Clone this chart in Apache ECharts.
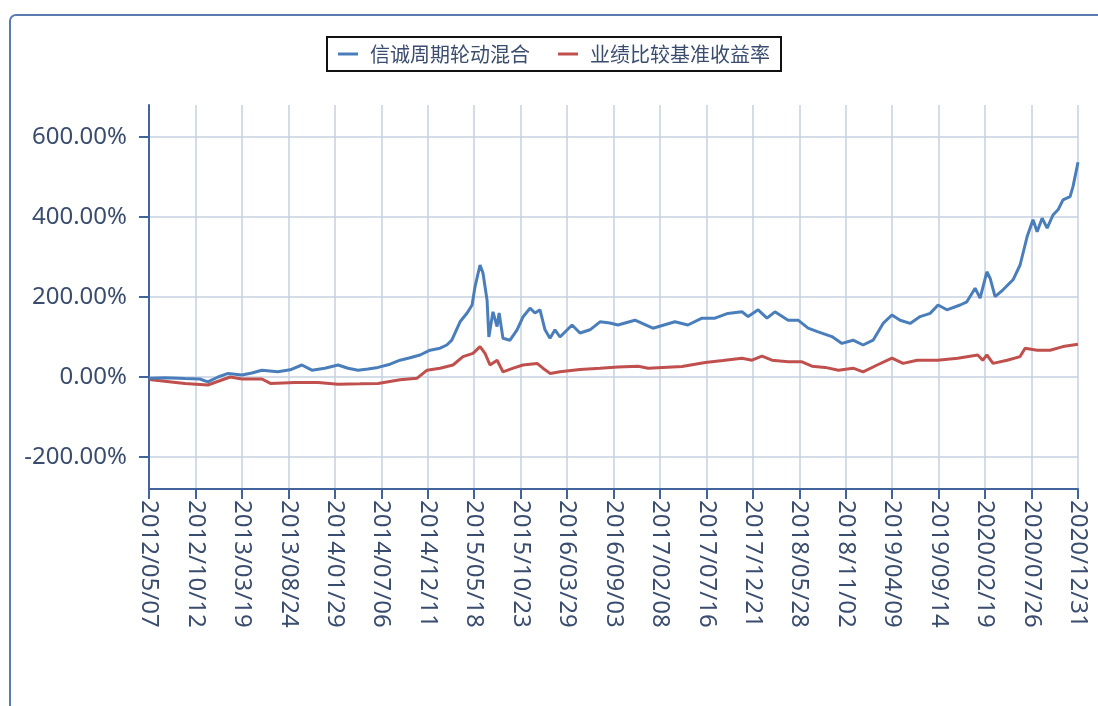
<!DOCTYPE html>
<html>
<head>
<meta charset="utf-8">
<script src="https://cdn.jsdelivr.net/npm/echarts@6/dist/echarts.min.js"></script>
<style>
  html, body { margin: 0; padding: 0; background: #fff; overflow: hidden; }
  #frame { position: absolute; left: 9px; top: 14px; width: 1300px; height: 900px;
           border: 2px solid #5a7cb0; border-radius: 7px; box-sizing: border-box; }
  #chart { position: absolute; left: 0; top: 0; width: 1098px; height: 706px; }
</style>
</head>
<body>
<div id="frame"></div>
<div id="chart"></div>
<script>
const seriesNames = ['信诚周期轮动混合', '业绩比较基准收益率'];
const tickLabels = ['2012/05/07','2012/10/12','2013/03/19','2013/08/24','2014/01/29','2014/07/06',
  '2014/12/11','2015/05/18','2015/10/23','2016/03/29','2016/09/03','2017/02/08','2017/07/16',
  '2017/12/21','2018/05/28','2018/11/02','2019/04/09','2019/09/14','2020/02/19','2020/07/26','2020/12/31'];
const yTicks = [-200, 0, 200, 400, 600];

const fundDates = ['2012/05/07','2012/06/30','2012/09/06','2012/10/27','2012/11/23','2012/12/28','2013/01/31',
  '2013/03/19','2013/04/22','2013/05/26','2013/07/19','2013/08/30','2013/10/09','2013/11/12','2013/12/26',
  '2014/02/09','2014/03/15','2014/04/18','2014/05/22','2014/06/25','2014/08/05','2014/09/08','2014/10/12',
  '2014/11/15','2014/12/19','2015/01/22','2015/02/14','2015/03/03','2015/03/31','2015/04/24','2015/05/11',
  '2015/05/21','2015/06/07','2015/06/17','2015/07/01','2015/07/07','2015/07/21','2015/08/04','2015/08/11',
  '2015/08/24','2015/09/17','2015/10/11','2015/10/31','2015/11/24','2015/12/11','2015/12/28','2016/01/14',
  '2016/01/31','2016/02/17','2016/03/05','2016/04/15','2016/05/12','2016/06/15','2016/07/19','2016/08/22',
  '2016/09/18','2016/11/15','2017/01/15','2017/03/31','2017/05/14','2017/07/01','2017/08/14','2017/09/27',
  '2017/11/14','2017/12/05','2018/01/08','2018/02/07','2018/03/06','2018/04/20','2018/05/24','2018/06/27',
  '2018/07/31','2018/09/16','2018/10/20','2018/11/27','2018/12/31','2019/02/03','2019/03/09','2019/04/08',
  '2019/05/06','2019/06/09','2019/07/13','2019/08/16','2019/09/12','2019/10/12','2019/11/26','2019/12/19',
  '2020/01/16','2020/02/02','2020/02/25','2020/03/07','2020/03/24','2020/04/20','2020/05/24','2020/06/17',
  '2020/07/11','2020/07/31','2020/08/14','2020/08/31','2020/09/17','2020/10/07','2020/10/24','2020/11/10',
  '2020/12/04','2020/12/14','2020/12/28','2020/12/31'];
const fundValues = [-3,-2,-4,-5,-12,0,9,
  5,10,17,13,18,30,17,22,
  30,22,17,20,24,32,42,48,
  55,67,72,80,92,138,160,180,
  226,280,260,192,100,163,126,160,
  97,92,118,150,172,160,168,118,
  97,118,100,130,110,118,138,135,
  130,142,122,138,130,147,147,159,
  163,151,168,147,163,142,142,122,
  113,101,84,92,80,92,134,155,
  142,134,151,159,180,168,180,188,
  222,197,263,247,201,218,243,280,
  351,393,363,397,372,405,418,443,
  451,476,526,537];

const benchDates = ['2012/05/07','2012/09/06','2012/11/23','2013/02/07','2013/03/19','2013/05/26','2013/06/24',
  '2013/09/16','2013/12/03','2014/02/09','2014/04/25','2014/06/25','2014/09/08','2014/11/05','2014/12/09',
  '2015/01/22','2015/03/07','2015/04/10','2015/05/14','2015/06/07','2015/06/24','2015/07/11','2015/08/04',
  '2015/08/24','2015/09/28','2015/10/31','2015/12/18','2016/01/07','2016/01/31','2016/03/05','2016/05/12',
  '2016/07/19','2016/09/18','2016/11/26','2016/12/30','2017/04/24','2017/07/12','2017/09/10','2017/11/14',
  '2017/12/18','2018/01/21','2018/02/24','2018/04/20','2018/06/06','2018/07/10','2018/08/24','2018/10/08',
  '2018/11/27','2018/12/31','2019/02/17','2019/04/08','2019/05/16','2019/07/03','2019/09/10','2019/11/18',
  '2020/01/25','2020/02/11','2020/02/25','2020/03/17','2020/05/04','2020/06/17','2020/07/04','2020/08/14',
  '2020/09/27','2020/11/10','2020/12/31'];
const benchValues = [-6,-16,-20,0,-5,-5,-16,
  -14,-14,-18,-17,-16,-7,-3,17,
  22,30,51,59,76,59,30,42,
  13,22,30,34,22,9,13,19,
  22,25,27,22,26,36,41,47,
  42,52,42,38,38,27,24,17,
  22,13,30,47,34,42,42,47,
  55,42,55,34,42,51,72,67,
  67,76,82];

// daily calendar categories spanning the tick labels
function fmt(d) {
  const m = String(d.getUTCMonth() + 1).padStart(2, '0');
  const dd = String(d.getUTCDate()).padStart(2, '0');
  return d.getUTCFullYear() + '/' + m + '/' + dd;
}
const categories = [];
{
  const [sy, sm, sd] = tickLabels[0].split('/').map(Number);
  const [ey, em, ed] = tickLabels[tickLabels.length - 1].split('/').map(Number);
  let t = Date.UTC(sy, sm - 1, sd);
  const end = Date.UTC(ey, em - 1, ed);
  while (t <= end) { categories.push(fmt(new Date(t))); t += 86400000; }
}
const tickSet = new Set(tickLabels);
const showTick = (idx, val) => tickSet.has(val);

const textColor = '#3b4d6e';
const axisColor = '#42649c';
const gridColor = '#c6d0e1';

const chart = echarts.init(document.getElementById('chart'), null, { renderer: 'canvas' });
chart.setOption({
  animation: false,
  backgroundColor: 'transparent',
  legend: {
    left: 327, top: 37,
    padding: [7, 11],
    itemGap: 28,
    itemWidth: 20, itemHeight: 3,
    borderColor: '#111', borderWidth: 2,
    icon: 'rect',
    textStyle: { fontFamily: 'Noto Sans CJK SC', fontSize: 20, color: textColor, padding: [0, 0, 0, 7] },
    data: seriesNames
  },
  grid: { left: 149, right: 20, top: 105, bottom: 217, containLabel: false },
  xAxis: {
    type: 'category',
    data: categories,
    boundaryGap: false,
    axisLine: { onZero: false, lineStyle: { color: axisColor, width: 2 } },
    axisTick: { interval: showTick, length: 10, lineStyle: { color: axisColor, width: 2 } },
    axisLabel: { interval: showTick, rotate: -90, margin: 11, fontSize: 24,
      fontFamily: 'Noto Sans', color: textColor },
    splitLine: { show: true, interval: showTick, lineStyle: { color: gridColor, width: 1.5 } }
  },
  yAxis: {
    type: 'value',
    min: -280, max: 680,
    axisLine: { show: true, lineStyle: { color: axisColor, width: 2 } },
    axisTick: { show: true, customValues: yTicks, length: 10, lineStyle: { color: axisColor, width: 2 } },
    axisLabel: { customValues: yTicks, margin: 22, fontSize: 24, fontFamily: 'Noto Sans', color: textColor,
      formatter: v => v.toFixed(2) + '%' },
    splitLine: { show: true, lineStyle: { color: gridColor, width: 1.5 } }
  },
  series: [
    {
      name: seriesNames[0], type: 'line', showSymbol: false, symbol: 'none',
      data: fundDates.map((d, i) => [d, fundValues[i]]),
      lineStyle: { color: '#4a7ebb', width: 3 }, itemStyle: { color: '#4a7ebb' }, z: 3
    },
    {
      name: seriesNames[1], type: 'line', showSymbol: false, symbol: 'none',
      data: benchDates.map((d, i) => [d, benchValues[i]]),
      lineStyle: { color: '#c0504d', width: 3 }, itemStyle: { color: '#c0504d' }, z: 2
    }
  ]
});
</script>
</body>
</html>
